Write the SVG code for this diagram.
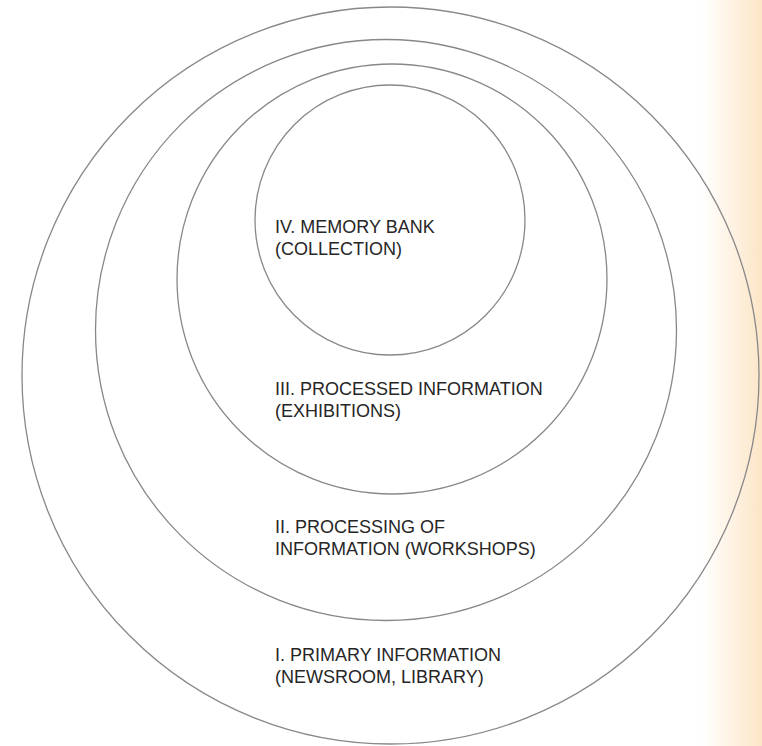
<svg xmlns="http://www.w3.org/2000/svg" width="762" height="746" viewBox="0 0 762 746">
<defs>
<linearGradient id="edge" x1="0" y1="0" x2="1" y2="0">
<stop offset="0" stop-color="#fde8cc" stop-opacity="0"/>
<stop offset="1" stop-color="#fce5c6" stop-opacity="1"/>
</linearGradient>
<style>
.ring{fill:none;stroke:#88888a;stroke-width:1.3}
.lbl{font-family:"Liberation Sans",Arial,Helvetica,sans-serif;font-size:18px;fill:#262626}
</style>
</defs>
<rect x="0" y="0" width="762" height="746" fill="#ffffff"/>
<rect x="700" y="0" width="62" height="746" fill="url(#edge)"/>
<g id="ring1"><circle class="ring" cx="390.5" cy="375.5" r="368.5"/></g>
<g id="ring2"><circle class="ring" cx="386" cy="330" r="290.5"/></g>
<g id="ring3"><circle class="ring" cx="392" cy="279" r="215"/></g>
<g id="ring4"><circle class="ring" cx="390" cy="220" r="135"/></g>
<g id="label4"><text class="lbl" x="275" y="233">IV. MEMORY BANK</text><text class="lbl" x="275" y="255">(COLLECTION)</text></g>
<g id="label3"><text class="lbl" x="275" y="395">III. PROCESSED INFORMATION</text><text class="lbl" x="275" y="417">(EXHIBITIONS)</text></g>
<g id="label2"><text class="lbl" x="275" y="533">II. PROCESSING OF</text><text class="lbl" x="275" y="555">INFORMATION (WORKSHOPS)</text></g>
<g id="label1"><text class="lbl" x="275" y="661">I. PRIMARY INFORMATION</text><text class="lbl" x="275" y="683">(NEWSROOM, LIBRARY)</text></g>
<g id="connectors"></g>
</svg>
